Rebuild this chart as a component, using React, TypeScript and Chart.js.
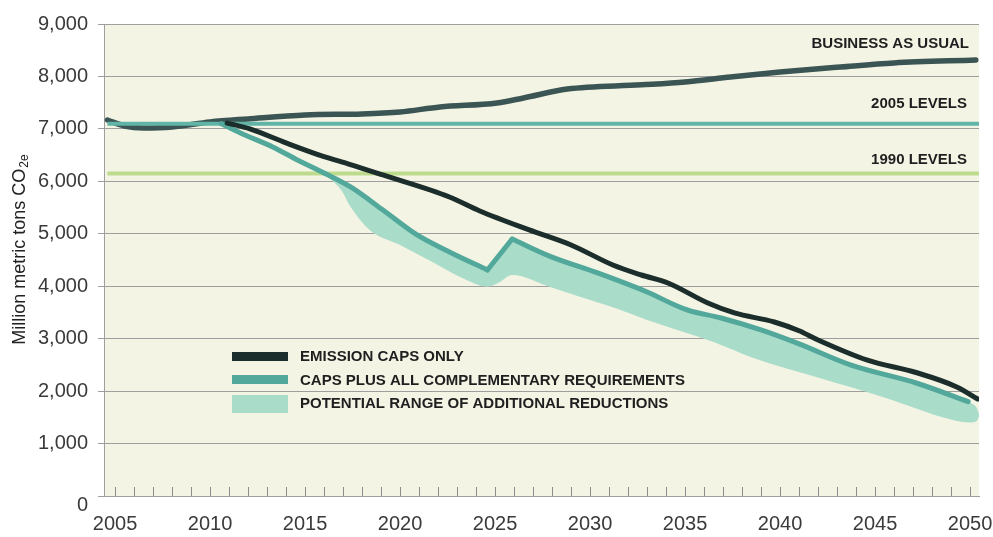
import React, { useEffect, useRef } from 'react';
import { Chart, registerables } from 'chart.js';

Chart.register(...registerables);

// ---------- data ----------
const xTickYears = [2005, 2010, 2015, 2020, 2025, 2030, 2035, 2040, 2045, 2050];
const yTickValues = [0, 1000, 2000, 3000, 4000, 5000, 6000, 7000, 8000, 9000];

const bauYears = [2004.6, 2005.5, 2006.5, 2008, 2010, 2012, 2015, 2018, 2020, 2022.1, 2025.1, 2026.5, 2028.8, 2032.7, 2035, 2037.4, 2040, 2043.2, 2046, 2050.3];
const bauValues = [7170, 7056, 7018, 7037, 7132, 7190, 7266, 7285, 7323, 7418, 7494, 7590, 7760, 7840, 7895, 7990, 8085, 8181, 8257, 8314];

const levelYears = [2004.6, 2050.47];
const level2005Value = 7100;
const level1990Value = 6150;

const capsOnlyYears = [2010.9, 2012.1, 2014, 2016, 2017.3, 2019.1, 2022.6, 2024.2, 2026.8, 2029, 2031.2, 2032.7, 2034.1, 2036.2, 2037.6, 2039.7, 2041, 2042, 2044.6, 2047.2, 2049.3, 2050.4];
const capsOnlyValues = [7110, 7000, 6732, 6470, 6330, 6121, 5702, 5435, 5073, 4787, 4405, 4214, 4062, 3680, 3490, 3318, 3150, 2975, 2590, 2350, 2080, 1850];

const capsPlusYears = [2010.6, 2011.6, 2013.3, 2014.6, 2016, 2017.4, 2019.1, 2020.9, 2022.6, 2024.6, 2025.9, 2027.9, 2030.4, 2033, 2035.1, 2036.9, 2039, 2041, 2043.7, 2047.2, 2049.9];
const capsPlusValues = [7100, 6922, 6655, 6407, 6160, 5893, 5454, 4977, 4653, 4310, 4900, 4570, 4253, 3890, 3547, 3394, 3166, 2900, 2500, 2150, 1800];
// the plan is cut in 2024.6 and resumes in 2025.9 (index of these two points)
const capsPlusDipIndex = 9;
const capsPlusPeakIndex = 10;

const rangeYears = [2015.9, 2016.9, 2017.4, 2018.4, 2020, 2021.8, 2023.5, 2024.6, 2025.2, 2025.9, 2027.9, 2029.5, 2031.5, 2033, 2036.5, 2038.6, 2041.9, 2045.4, 2049, 2050, 2050.35, 2050.47];
const rangeHigh = [6180, 5990, 5893, 5640, 5210, 4810, 4500, 4310, 4590, 4900, 4570, 4370, 4100, 3890, 3430, 3210, 2780, 2330, 1890, 1780, 1680, 1560];
const rangeLow = [6180, 5835, 5511, 5073, 4787, 4443, 4119, 3990, 4070, 4215, 3986, 3795, 3560, 3356, 2937, 2632, 2270, 1890, 1460, 1400, 1430, 1520];

const seriesLabels = {
  bau: 'BUSINESS AS USUAL',
  l2005: '2005 LEVELS',
  l1990: '1990 LEVELS',
  capsOnly: 'EMISSION CAPS ONLY',
  capsPlus: 'CAPS PLUS ALL COMPLEMENTARY REQUIREMENTS',
  range: 'POTENTIAL RANGE OF ADDITIONAL REDUCTIONS',
};

// ---------- styles ----------
const FONT = '"Liberation Sans", Arial, Helvetica, sans-serif';
const BG = '#f4f4e5';
const GRID = '#9e9e9e';
const TEXT = '#3a3a3a';
const LABEL = '#1f1f1f';
const C_BAU = '#3a5553';
const C_CAPS = '#1c2e2b';
const C_PLUS = '#52a89a';
const C_2005 = '#62b4a7';
const C_1990 = '#bddb8c';
const C_RANGE = '#aadcca';

const pts = (xs: number[], ys: number[]) => xs.map((x, i) => ({ x, y: ys[i] }));
const flat = (xs: number[], v: number) => xs.map((x) => ({ x, y: v }));

const decorations = {
  id: 'decorations',
  beforeDraw(chart: any) {
    const { ctx, chartArea: a } = chart;
    ctx.save();
    ctx.fillStyle = BG;
    ctx.fillRect(a.left, a.top, a.right - a.left, a.bottom - a.top);
    ctx.restore();
  },
  afterDraw(chart: any) {
    const { ctx, chartArea: a, scales } = chart;
    const xs = scales.x;
    const ys = scales.y;
    ctx.save();

    // minor year ticks inside the plot
    ctx.strokeStyle = '#8c8c8c';
    ctx.lineWidth = 1;
    for (let yr = xTickYears[0]; yr <= xTickYears[xTickYears.length - 1]; yr++) {
      const px = Math.round(xs.getPixelForValue(yr)) + 0.5;
      ctx.beginPath();
      ctx.moveTo(px, a.bottom);
      ctx.lineTo(px, a.bottom - 9);
      ctx.stroke();
    }

    // zero label (sits a bit below the axis)
    ctx.fillStyle = TEXT;
    ctx.font = `20px ${FONT}`;
    ctx.textAlign = 'right';
    ctx.textBaseline = 'middle';
    ctx.fillText('0', a.left - 16, ys.getPixelForValue(0) + 9);

    // right-side line labels
    ctx.fillStyle = LABEL;
    ctx.font = `bold 15px ${FONT}`;
    ctx.textAlign = 'right';
    ctx.textBaseline = 'middle';
    ctx.fillText(seriesLabels.bau, a.right - 10, ys.getPixelForValue(8620));
    ctx.fillText(seriesLabels.l2005, a.right - 12, ys.getPixelForValue(7475));
    ctx.fillText(seriesLabels.l1990, a.right - 12, ys.getPixelForValue(6407));

    // legend
    const lx = a.left + 128;
    const tx = a.left + 196;
    ctx.fillStyle = C_CAPS;
    ctx.fillRect(lx, a.top + 328, 56, 9);
    ctx.fillStyle = C_PLUS;
    ctx.fillRect(lx, a.top + 351, 56, 9);
    ctx.fillStyle = C_RANGE;
    ctx.fillRect(lx, a.top + 371, 56, 18);
    ctx.fillStyle = LABEL;
    ctx.textAlign = 'left';
    ctx.fillText(seriesLabels.capsOnly, tx, a.top + 333);
    ctx.fillText(seriesLabels.capsPlus, tx, a.top + 356.5);
    ctx.fillText(seriesLabels.range, tx, a.top + 380);

    // y-axis title with subscript
    ctx.translate(19, 250);
    ctx.rotate(-Math.PI / 2);
    const main = 'Million metric tons CO';
    const sub = '2e';
    ctx.font = `18px ${FONT}`;
    const w1 = ctx.measureText(main).width;
    ctx.font = `12px ${FONT}`;
    const w2 = ctx.measureText(sub).width;
    const start = -(w1 + w2) / 2;
    ctx.fillStyle = '#222';
    ctx.textAlign = 'left';
    ctx.textBaseline = 'alphabetic';
    ctx.font = `18px ${FONT}`;
    ctx.fillText(main, start, 6);
    ctx.font = `12px ${FONT}`;
    ctx.fillText(sub, start + w1 + 1, 9);

    ctx.restore();
  },
};

export default function App() {
  const ref = useRef<HTMLCanvasElement>(null);

  useEffect(() => {
    document.body.style.margin = '0';
    const line = (extra: any) => ({
      pointRadius: 0,
      fill: false,
      borderCapStyle: 'round',
      borderJoinStyle: 'round',
      cubicInterpolationMode: 'monotone',
      tension: 0.4,
      ...extra,
    });
    const plusAll = pts(capsPlusYears, capsPlusValues);
    const chart = new Chart(ref.current as HTMLCanvasElement, {
      type: 'line',
      data: {
        datasets: [
          line({ label: 'range high', data: pts(rangeYears, rangeHigh), borderWidth: 0, borderColor: 'rgba(0,0,0,0)', order: 10 }),
          line({ label: seriesLabels.range, data: pts(rangeYears, rangeLow), borderWidth: 0, borderColor: 'rgba(0,0,0,0)', backgroundColor: C_RANGE, fill: '-1', order: 9 }),
          line({ label: seriesLabels.l1990, data: flat(levelYears, level1990Value), borderColor: C_1990, borderWidth: 4, borderCapStyle: 'butt', order: 8 }),
          line({ label: seriesLabels.bau, data: pts(bauYears, bauValues), borderColor: C_BAU, borderWidth: 5.5, order: 7 }),
          line({ label: seriesLabels.l2005, data: flat(levelYears, level2005Value), borderColor: C_2005, borderWidth: 4, borderCapStyle: 'butt', order: 6 }),
          line({ label: seriesLabels.capsPlus, data: plusAll.slice(0, capsPlusDipIndex + 1), borderColor: C_PLUS, borderWidth: 5, order: 5 }),
          line({ label: seriesLabels.capsPlus + ' (jump)', data: plusAll.slice(capsPlusDipIndex, capsPlusPeakIndex + 1), borderColor: C_PLUS, borderWidth: 5, order: 5 }),
          line({ label: seriesLabels.capsPlus + ' (after)', data: plusAll.slice(capsPlusPeakIndex), borderColor: C_PLUS, borderWidth: 5, order: 5 }),
          line({ label: seriesLabels.capsOnly, data: pts(capsOnlyYears, capsOnlyValues), borderColor: C_CAPS, borderWidth: 5, order: 4 }),
        ],
      },
      options: {
        responsive: false,
        animation: false,
        devicePixelRatio: 1,
        layout: { padding: { top: 24, right: 14, bottom: 0, left: 0 } },
        plugins: {
          legend: { display: false },
          tooltip: { enabled: false },
          filler: { drawTime: 'beforeDatasetsDraw' },
        } as any,
        scales: {
          x: {
            type: 'linear',
            min: 2004.42,
            max: 2050.47,
            afterBuildTicks: (s: any) => {
              s.ticks = xTickYears.map((v) => ({ value: v }));
            },
            afterFit: (s: any) => {
              s.height = 41;
              s.paddingLeft = 0;
              s.paddingRight = 0;
            },
            ticks: {
              callback: (v: any) => String(v),
              font: { family: FONT, size: 20 },
              color: TEXT,
              padding: 16,
              maxRotation: 0,
              autoSkip: false,
            },
            grid: { display: false, drawTicks: false },
            border: { display: true, color: GRID, width: 1 },
          },
          y: {
            type: 'linear',
            min: 0,
            max: 9000,
            afterBuildTicks: (s: any) => {
              s.ticks = yTickValues.map((v) => ({ value: v }));
            },
            afterFit: (s: any) => {
              s.width = 104;
              s.paddingTop = 0;
              s.paddingBottom = 0;
            },
            ticks: {
              callback: (v: any) => (v === 0 ? '' : Number(v).toLocaleString('en-US')),
              font: { family: FONT, size: 20 },
              color: TEXT,
              padding: 10,
            },
            grid: { color: GRID, lineWidth: 1, drawTicks: true, tickLength: 6 },
            border: { display: true, color: GRID, width: 1 },
          },
        },
      } as any,
      plugins: [decorations],
    });
    return () => chart.destroy();
  }, []);

  return (
    <div style={{ width: 993, height: 537 }}>
      <canvas ref={ref} width={993} height={537} style={{ display: 'block' }} />
    </div>
  );
}
